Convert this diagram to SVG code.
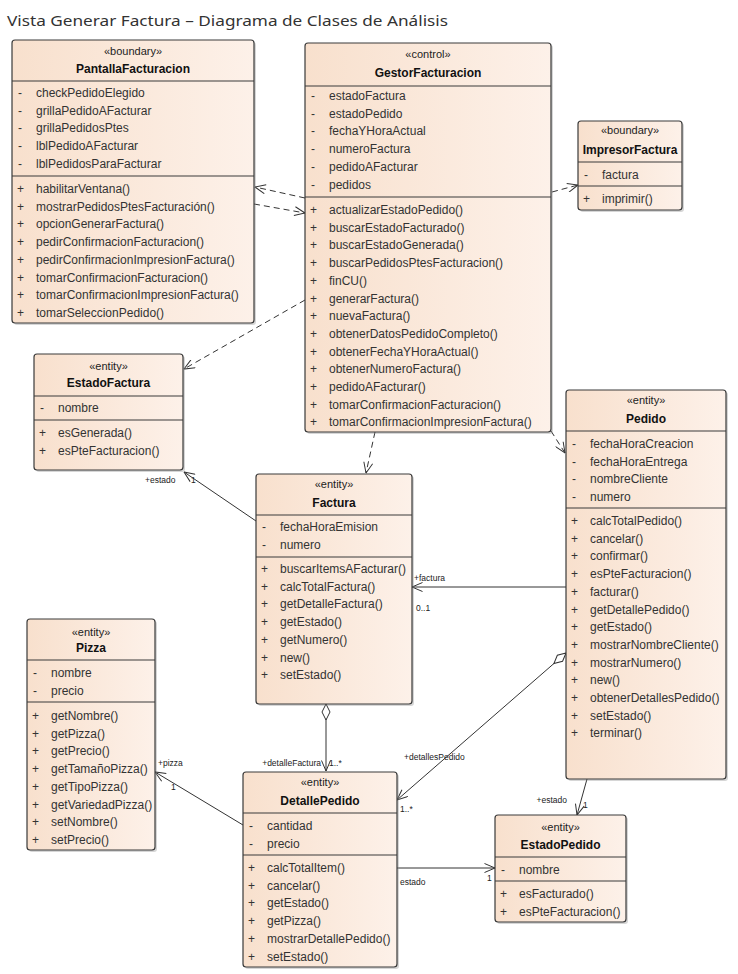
<svg xmlns="http://www.w3.org/2000/svg" width="738" height="974" viewBox="0 0 738 974">
<defs>
<linearGradient id="g" x1="0" y1="0" x2="1" y2="0">
<stop offset="0" stop-color="#f8e0cd"/>
<stop offset="1" stop-color="#fdf1e9"/>
</linearGradient>
<marker id="open" viewBox="0 0 12 10" refX="11.5" refY="5" markerWidth="12" markerHeight="10" orient="auto" markerUnits="userSpaceOnUse">
<path d="M1,0.5 L11.5,5 L1,9.5" fill="none" stroke="#333" stroke-width="1"/>
</marker>
<marker id="dia" viewBox="-1 -1 18 10" refX="0" refY="4" markerWidth="18" markerHeight="10" orient="auto" markerUnits="userSpaceOnUse">
<path d="M0,4 L8,0 L16,4 L8,8 Z" fill="#fff" stroke="#333" stroke-width="1"/>
</marker>
<style>
.sh{fill:#8a8a8a;opacity:.35}
.box{fill:url(#g);stroke:#3a3a3a;stroke-width:1.2}
.sep{stroke:#3a3a3a;stroke-width:1.2}
.st{font-family:"Liberation Sans",Arial,sans-serif;font-size:11px;fill:#222;text-anchor:middle}
.nm{font-family:"Liberation Sans",Arial,sans-serif;font-size:12px;font-weight:bold;fill:#111;text-anchor:middle}
.it{font-family:"Liberation Sans",Arial,sans-serif;font-size:12px;fill:#333}
.lb{font-family:"Liberation Sans",Arial,sans-serif;font-size:8.5px;fill:#222}
.ttl{font-family:"Noto Sans","Open Sans",sans-serif;font-size:15px;fill:#333}
.dash{fill:none;stroke:#333;stroke-width:1;stroke-dasharray:6,4;marker-end:url(#open)}
.sol{fill:none;stroke:#333;stroke-width:1;marker-end:url(#open)}
.agg{fill:none;stroke:#333;stroke-width:1;marker-start:url(#dia);marker-end:url(#open)}
</style>
</defs>
<rect width="738" height="974" fill="#fff"/>
<text class="ttl" x="7" y="26" textLength="441" lengthAdjust="spacingAndGlyphs">Vista Generar Factura – Diagrama de Clases de Análisis</text>

<g id="connectors">
<path class="dash" d="M305,198 L255,187"/>
<path class="dash" d="M254,204 L305,213"/>
<path class="dash" d="M552,192 L578,185"/>
<path class="dash" d="M305,300 L184,369"/>
<path class="dash" d="M375,432 L366,473"/>
<path class="dash" d="M551,431 L565,453"/>
<path class="sol" d="M256,521 L184,472"/>
<path class="sol" d="M566,587 L412,587"/>
<path class="agg" d="M566,653 L397,800"/>
<path class="agg" d="M326,704 L326,771"/>
<path class="sol" d="M243,825 L155,772"/>
<path class="sol" d="M397,868 L495,868"/>
<path class="sol" d="M587,779 L577,815"/>
<text class="lb" x="145" y="483">+estado</text>
<text class="lb" x="191" y="483">1</text>
<text class="lb" x="414" y="581">+factura</text>
<text class="lb" x="416" y="611">0..1</text>
<text class="lb" x="404" y="760">+detallesPedido</text>
<text class="lb" x="400" y="812">1..*</text>
<text class="lb" x="321" y="766" text-anchor="end">+detalleFactura</text>
<text class="lb" x="329" y="766">1..*</text>
<text class="lb" x="158" y="766">+pizza</text>
<text class="lb" x="171" y="790">1</text>
<text class="lb" x="400" y="885">estado</text>
<text class="lb" x="487" y="881">1</text>
<text class="lb" x="567" y="803" text-anchor="end">+estado</text>
<text class="lb" x="583" y="808">1</text>
</g>

<g id="PantallaFacturacion">
<rect class="sh" x="14" y="42" width="242" height="283" rx="3"/>
<rect class="box" x="12" y="40" width="242" height="283" rx="3"/>
<text class="st" x="133" y="55">«boundary»</text>
<text class="nm" x="133" y="73">PantallaFacturacion</text>
<line class="sep" x1="12" y1="81" x2="254" y2="81"/>
<g class="it">
<text x="18" y="97">-</text><text x="36" y="97">checkPedidoElegido</text>
<text x="18" y="114.7">-</text><text x="36" y="114.7">grillaPedidoAFacturar</text>
<text x="18" y="132.4">-</text><text x="36" y="132.4">grillaPedidosPtes</text>
<text x="18" y="150.1">-</text><text x="36" y="150.1">lblPedidoAFacturar</text>
<text x="18" y="167.8">-</text><text x="36" y="167.8">lblPedidosParaFacturar</text>
</g>
<line class="sep" x1="12" y1="176" x2="254" y2="176"/>
<g class="it">
<text x="17" y="193">+</text><text x="36" y="193">habilitarVentana()</text>
<text x="17" y="210.7">+</text><text x="36" y="210.7">mostrarPedidosPtesFacturación()</text>
<text x="17" y="228.4">+</text><text x="36" y="228.4">opcionGenerarFactura()</text>
<text x="17" y="246.1">+</text><text x="36" y="246.1">pedirConfirmacionFacturacion()</text>
<text x="17" y="263.8">+</text><text x="36" y="263.8">pedirConfirmacionImpresionFactura()</text>
<text x="17" y="281.5">+</text><text x="36" y="281.5">tomarConfirmacionFacturacion()</text>
<text x="17" y="299.2">+</text><text x="36" y="299.2">tomarConfirmacionImpresionFactura()</text>
<text x="17" y="316.9">+</text><text x="36" y="316.9">tomarSeleccionPedido()</text>
</g>
</g>

<g id="GestorFacturacion">
<rect class="sh" x="307" y="45" width="246" height="389" rx="3"/>
<rect class="box" x="305" y="43" width="246" height="389" rx="3"/>
<text class="st" x="428" y="58">«control»</text>
<text class="nm" x="428" y="77">GestorFacturacion</text>
<line class="sep" x1="305" y1="86" x2="551" y2="86"/>
<g class="it">
<text x="311" y="100">-</text><text x="329" y="100">estadoFactura</text>
<text x="311" y="117.7">-</text><text x="329" y="117.7">estadoPedido</text>
<text x="311" y="135.4">-</text><text x="329" y="135.4">fechaYHoraActual</text>
<text x="311" y="153.1">-</text><text x="329" y="153.1">numeroFactura</text>
<text x="311" y="170.8">-</text><text x="329" y="170.8">pedidoAFacturar</text>
<text x="311" y="188.5">-</text><text x="329" y="188.5">pedidos</text>
</g>
<line class="sep" x1="305" y1="197" x2="551" y2="197"/>
<g class="it">
<text x="310" y="214">+</text><text x="329" y="214">actualizarEstadoPedido()</text>
<text x="310" y="231.7">+</text><text x="329" y="231.7">buscarEstadoFacturado()</text>
<text x="310" y="249.4">+</text><text x="329" y="249.4">buscarEstadoGenerada()</text>
<text x="310" y="267.1">+</text><text x="329" y="267.1">buscarPedidosPtesFacturacion()</text>
<text x="310" y="284.8">+</text><text x="329" y="284.8">finCU()</text>
<text x="310" y="302.5">+</text><text x="329" y="302.5">generarFactura()</text>
<text x="310" y="320.2">+</text><text x="329" y="320.2">nuevaFactura()</text>
<text x="310" y="337.9">+</text><text x="329" y="337.9">obtenerDatosPedidoCompleto()</text>
<text x="310" y="355.6">+</text><text x="329" y="355.6">obtenerFechaYHoraActual()</text>
<text x="310" y="373.3">+</text><text x="329" y="373.3">obtenerNumeroFactura()</text>
<text x="310" y="391">+</text><text x="329" y="391">pedidoAFacturar()</text>
<text x="310" y="408.7">+</text><text x="329" y="408.7">tomarConfirmacionFacturacion()</text>
<text x="310" y="426.4">+</text><text x="329" y="426.4">tomarConfirmacionImpresionFactura()</text>
</g>
</g>

<g id="ImpresorFactura">
<rect class="sh" x="580" y="123" width="104" height="89" rx="3"/>
<rect class="box" x="578" y="121" width="104" height="89" rx="3"/>
<text class="st" x="630" y="134">«boundary»</text>
<text class="nm" x="630" y="154">ImpresorFactura</text>
<line class="sep" x1="578" y1="162" x2="682" y2="162"/>
<g class="it">
<text x="584" y="179">-</text><text x="602" y="179">factura</text>
</g>
<line class="sep" x1="578" y1="186" x2="682" y2="186"/>
<g class="it">
<text x="583" y="203">+</text><text x="602" y="203">imprimir()</text>
</g>
</g>

<g id="EstadoFactura">
<rect class="sh" x="36" y="356" width="149" height="116" rx="3"/>
<rect class="box" x="34" y="354" width="149" height="116" rx="3"/>
<text class="st" x="108.5" y="370">«entity»</text>
<text class="nm" x="108.5" y="387">EstadoFactura</text>
<line class="sep" x1="34" y1="396" x2="183" y2="396"/>
<g class="it">
<text x="40" y="412">-</text><text x="58" y="412">nombre</text>
</g>
<line class="sep" x1="34" y1="420" x2="183" y2="420"/>
<g class="it">
<text x="39" y="437">+</text><text x="58" y="437">esGenerada()</text>
<text x="39" y="454.7">+</text><text x="58" y="454.7">esPteFacturacion()</text>
</g>
</g>

<g id="Factura">
<rect class="sh" x="258" y="476" width="156" height="230" rx="3"/>
<rect class="box" x="256" y="474" width="156" height="230" rx="3"/>
<text class="st" x="334" y="488">«entity»</text>
<text class="nm" x="334" y="507">Factura</text>
<line class="sep" x1="256" y1="515" x2="412" y2="515"/>
<g class="it">
<text x="262" y="531">-</text><text x="280" y="531">fechaHoraEmision</text>
<text x="262" y="548.7">-</text><text x="280" y="548.7">numero</text>
</g>
<line class="sep" x1="256" y1="557" x2="412" y2="557"/>
<g class="it">
<text x="261" y="573">+</text><text x="280" y="573">buscarItemsAFacturar()</text>
<text x="261" y="590.7">+</text><text x="280" y="590.7">calcTotalFactura()</text>
<text x="261" y="608.4">+</text><text x="280" y="608.4">getDetalleFactura()</text>
<text x="261" y="626.1">+</text><text x="280" y="626.1">getEstado()</text>
<text x="261" y="643.8">+</text><text x="280" y="643.8">getNumero()</text>
<text x="261" y="661.5">+</text><text x="280" y="661.5">new()</text>
<text x="261" y="679.2">+</text><text x="280" y="679.2">setEstado()</text>
</g>
</g>

<g id="Pedido">
<rect class="sh" x="568" y="392" width="160" height="389" rx="3"/>
<rect class="box" x="566" y="390" width="160" height="389" rx="3"/>
<text class="st" x="646" y="404">«entity»</text>
<text class="nm" x="646" y="423">Pedido</text>
<line class="sep" x1="566" y1="431" x2="726" y2="431"/>
<g class="it">
<text x="572" y="448">-</text><text x="590" y="448">fechaHoraCreacion</text>
<text x="572" y="465.7">-</text><text x="590" y="465.7">fechaHoraEntrega</text>
<text x="572" y="483.4">-</text><text x="590" y="483.4">nombreCliente</text>
<text x="572" y="501.1">-</text><text x="590" y="501.1">numero</text>
</g>
<line class="sep" x1="566" y1="508" x2="726" y2="508"/>
<g class="it">
<text x="571" y="525">+</text><text x="590" y="525">calcTotalPedido()</text>
<text x="571" y="542.7">+</text><text x="590" y="542.7">cancelar()</text>
<text x="571" y="560.4">+</text><text x="590" y="560.4">confirmar()</text>
<text x="571" y="578.1">+</text><text x="590" y="578.1">esPteFacturacion()</text>
<text x="571" y="595.8">+</text><text x="590" y="595.8">facturar()</text>
<text x="571" y="613.5">+</text><text x="590" y="613.5">getDetallePedido()</text>
<text x="571" y="631.2">+</text><text x="590" y="631.2">getEstado()</text>
<text x="571" y="648.9">+</text><text x="590" y="648.9">mostrarNombreCliente()</text>
<text x="571" y="666.6">+</text><text x="590" y="666.6">mostrarNumero()</text>
<text x="571" y="684.3">+</text><text x="590" y="684.3">new()</text>
<text x="571" y="702">+</text><text x="590" y="702">obtenerDetallesPedido()</text>
<text x="571" y="719.7">+</text><text x="590" y="719.7">setEstado()</text>
<text x="571" y="737.4">+</text><text x="590" y="737.4">terminar()</text>
</g>
</g>

<g id="Pizza">
<rect class="sh" x="29" y="621" width="128" height="231" rx="3"/>
<rect class="box" x="27" y="619" width="128" height="231" rx="3"/>
<text class="st" x="91" y="636">«entity»</text>
<text class="nm" x="91" y="652">Pizza</text>
<line class="sep" x1="27" y1="660" x2="155" y2="660"/>
<g class="it">
<text x="33" y="677">-</text><text x="51" y="677">nombre</text>
<text x="33" y="694.7">-</text><text x="51" y="694.7">precio</text>
</g>
<line class="sep" x1="27" y1="702" x2="155" y2="702"/>
<g class="it">
<text x="32" y="720">+</text><text x="51" y="720">getNombre()</text>
<text x="32" y="737.7">+</text><text x="51" y="737.7">getPizza()</text>
<text x="32" y="755.4">+</text><text x="51" y="755.4">getPrecio()</text>
<text x="32" y="773.1">+</text><text x="51" y="773.1">getTamañoPizza()</text>
<text x="32" y="790.8">+</text><text x="51" y="790.8">getTipoPizza()</text>
<text x="32" y="808.5">+</text><text x="51" y="808.5">getVariedadPizza()</text>
<text x="32" y="826.2">+</text><text x="51" y="826.2">setNombre()</text>
<text x="32" y="843.9">+</text><text x="51" y="843.9">setPrecio()</text>
</g>
</g>

<g id="DetallePedido">
<rect class="sh" x="245" y="774" width="154" height="195" rx="3"/>
<rect class="box" x="243" y="772" width="154" height="195" rx="3"/>
<text class="st" x="320" y="786">«entity»</text>
<text class="nm" x="320" y="805">DetallePedido</text>
<line class="sep" x1="243" y1="813" x2="397" y2="813"/>
<g class="it">
<text x="249" y="830">-</text><text x="267" y="830">cantidad</text>
<text x="249" y="847.7">-</text><text x="267" y="847.7">precio</text>
</g>
<line class="sep" x1="243" y1="855" x2="397" y2="855"/>
<g class="it">
<text x="248" y="872">+</text><text x="267" y="872">calcTotalItem()</text>
<text x="248" y="889.7">+</text><text x="267" y="889.7">cancelar()</text>
<text x="248" y="907.4">+</text><text x="267" y="907.4">getEstado()</text>
<text x="248" y="925.1">+</text><text x="267" y="925.1">getPizza()</text>
<text x="248" y="942.8">+</text><text x="267" y="942.8">mostrarDetallePedido()</text>
<text x="248" y="960.5">+</text><text x="267" y="960.5">setEstado()</text>
</g>
</g>

<g id="EstadoPedido">
<rect class="sh" x="497" y="817" width="131" height="107" rx="3"/>
<rect class="box" x="495" y="815" width="131" height="107" rx="3"/>
<text class="st" x="560.5" y="831">«entity»</text>
<text class="nm" x="560.5" y="849">EstadoPedido</text>
<line class="sep" x1="495" y1="857" x2="626" y2="857"/>
<g class="it">
<text x="501" y="874">-</text><text x="519" y="874">nombre</text>
</g>
<line class="sep" x1="495" y1="881" x2="626" y2="881"/>
<g class="it">
<text x="500" y="898">+</text><text x="519" y="898">esFacturado()</text>
<text x="500" y="915.7">+</text><text x="519" y="915.7">esPteFacturacion()</text>
</g>
</g>
</svg>
